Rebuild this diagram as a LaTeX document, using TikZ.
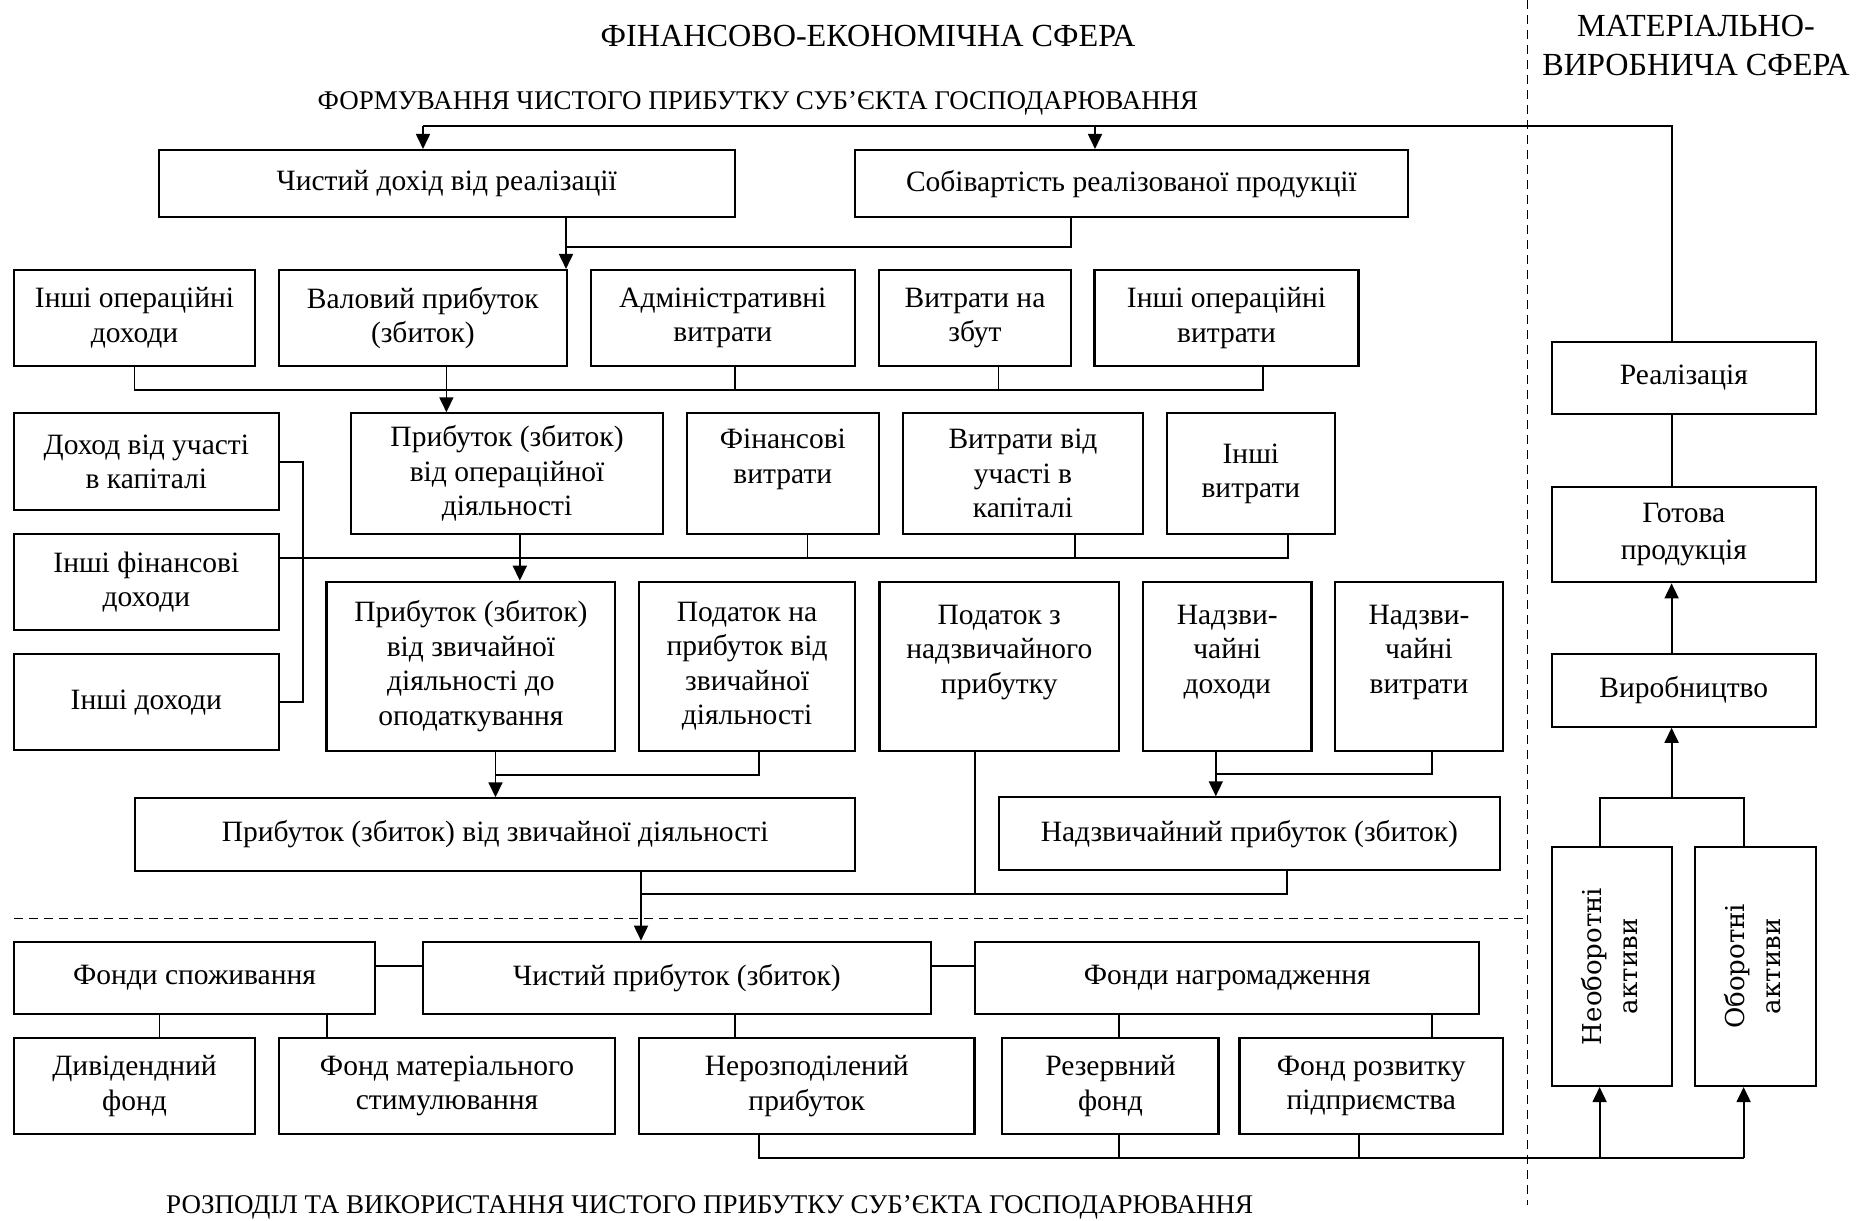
\documentclass[tikz,border=0pt]{standalone}
\usepackage{fontspec}
\usepackage{graphicx}
\setmainfont{Liberation Serif}
\newfontfamily\vertfont{DejaVu Serif}
\usetikzlibrary{arrows.meta}
\tikzset {>={Triangle[length=7.5pt,width=7pt]}}
\tikzset{
  box/.style={draw,line width=1.05pt,align=center,inner sep=0pt,
    font=\fontsize{14.75}{17.25}\selectfont},
  assetbox/.style={draw,line width=1.05pt,inner sep=0pt},
  link/.style={line width=0.9pt},
  sepline/.style={line width=0.8pt,dash pattern=on 4.5pt off 3pt},
  bigtitle/.style={font=\fontsize{16.1}{19.5}\selectfont,align=center,inner sep=0pt},
  smalltitle/.style={font=\fontsize{13.5}{16}\selectfont,inner sep=0pt}
}
\newcommand{\vtext}[2]{\rotatebox{90}{\vertfont\fontsize{13}{18}\selectfont
  \begin{tabular}{@{}c@{}}#1\\#2\end{tabular}}}

\begin{document}
\begin{tikzpicture}[x=0.5pt,y=-0.5pt]
\useasboundingbox (0,0) rectangle (1865,1221);
% titles
\node[bigtitle] (tfin) at (868,36) {ФІНАНСОВО-ЕКОНОМІЧНА СФЕРА};
\node[bigtitle] (tmat) at (1696,45.5) {МАТЕРІАЛЬНО-\\ВИРОБНИЧА СФЕРА};
\node[smalltitle] (tform) at (758,103.3) {ФОРМУВАННЯ ЧИСТОГО ПРИБУТКУ СУБ’ЄКТА ГОСПОДАРЮВАННЯ};
\node[smalltitle] (trozp) at (709.7,1207) {РОЗПОДІЛ ТА ВИКОРИСТАННЯ ЧИСТОГО ПРИБУТКУ СУБ’ЄКТА ГОСПОДАРЮВАННЯ};
% separators
\draw[sepline] (1527.6,0) -- (1527.6,1205);
\draw[sepline] (14,918.3) -- (1527.6,918.3);
% row 1
\node[box,minimum width=287.95pt,minimum height=33.65pt] (dohid) at (446.75,183.65) {Чистий дохід від реалізації};
\node[box,minimum width=276.35pt,minimum height=33.65pt] (sobiv) at (1131.35,183.65) {Собівартість реалізованої продукції};
% row 2
\node[box,minimum width=120.5pt,minimum height=48pt] (inopdoh) at (134.5,318) {Інші операційні\\доходи};
\node[box,minimum width=144.15pt,minimum height=48pt] (valov) at (422.85,318) {Валовий прибуток\\(збиток)};
\node[box,minimum width=132.2pt,minimum height=48pt] (admin) at (722.8,318) {Адміністративні\\витрати};
\node[box,minimum width=96pt,minimum height=48pt] (zbut) at (975,318) {Витрати на\\збут};
\node[box,minimum width=132pt,minimum height=48pt] (inopvytr) at (1226.5,318) {Інші операційні\\витрати};
% row 3
\node[box,minimum width=132.35pt,minimum height=48.35pt] (dochuch) at (146.35,461.65) {Доход від участі\\в капіталі};
\node[box,minimum width=132.35pt,minimum height=48pt] (infindoh) at (146.35,582) {Інші фінансові\\доходи};
\node[box,minimum width=132.35pt,minimum height=47.85pt] (inshdoh) at (146.35,702.15) {Інші доходи};
\node[box,minimum width=156.25pt,minimum height=60.35pt] (prybop) at (507.05,473.65) {Прибуток (збиток)\\від операційної\\діяльності};
\node[box,minimum width=95.95pt,minimum height=60.35pt] (finvytr) at (782.85,473.65) {Фінансові\\витрати\\\mbox{}};
\node[box,minimum width=120pt,minimum height=60.35pt] (vytruch) at (1023,473.65) {Витрати від\\участі в\\капіталі};
\node[box,minimum width=84.1pt,minimum height=60.35pt] (inshvytr) at (1250.9,473.65) {Інші\\витрати};
% row 4
\node[box,minimum width=144.45pt,minimum height=84.5pt] (prybzv) at (470.95,666.2) {Прибуток (збиток)\\від звичайної\\діяльності до\\оподаткування};
\node[box,minimum width=108.1pt,minimum height=84.5pt] (podprib) at (747.1,666.2) {Податок на\\прибуток від\\звичайної\\діяльності};
\node[box,minimum width=119.75pt,minimum height=84.5pt] (podnadz) at (999.25,666.2) {Податок з\\надзвичайного\\прибутку\\\mbox{}};
\node[box,minimum width=84.25pt,minimum height=84.5pt] (nadzdoh) at (1227.25,666.2) {Надзви-\\чайні\\доходи\\\mbox{}};
\node[box,minimum width=84pt,minimum height=84.5pt] (nadzvytr) at (1419,666.2) {Надзви-\\чайні\\витрати\\\mbox{}};
% row 5
\node[box,minimum width=360pt,minimum height=36.2pt] (prybzvd) at (495.2,834.5) {Прибуток (збиток) від звичайної діяльності};
\node[box,minimum width=250.35pt,minimum height=36.35pt] (nadzpryb) at (1249.35,833.65) {Надзвичайний прибуток (збиток)};
% distribution
\node[box,minimum width=180.5pt,minimum height=36.15pt] (fspoz) at (194.5,977.85) {Фонди споживання};
\node[box,minimum width=254.1pt,minimum height=36.15pt] (chyst) at (676.9,977.85) {Чистий прибуток (збиток)};
\node[box,minimum width=252pt,minimum height=36.15pt] (fnagr) at (1227.3,977.85) {Фонди нагромадження};
\node[box,minimum width=120.5pt,minimum height=48.15pt] (dyvid) at (134.5,1085.85) {Дивідендний\\фонд};
\node[box,minimum width=168.35pt,minimum height=48.15pt] (fmat) at (447.05,1085.85) {Фонд матеріального\\стимулювання};
\node[box,minimum width=167.75pt,minimum height=48.15pt] (nerozp) at (806.75,1085.85) {Нерозподілений\\прибуток};
\node[box,minimum width=108.05pt,minimum height=48.15pt] (rezerv) at (1110.45,1085.85) {Резервний\\фонд};
\node[box,minimum width=131.75pt,minimum height=48.15pt] (frozv) at (1371.25,1085.85) {Фонд розвитку\\підприємства};
% material sphere
\node[box,minimum width=131.8pt,minimum height=36.3pt] (real) at (1683.8,378) {Реалізація};
\node[box,minimum width=131.8pt,minimum height=47.8pt,font=\fontsize{14.75}{18.5}\selectfont] (gotova) at (1683.8,534.5) {Готова\\продукція};
\node[box,minimum width=131.8pt,minimum height=36.2pt] (vyrob) at (1683.8,690.5) {Виробництво};
\node[assetbox,minimum width=59.8pt,minimum height=119.65pt] (neobor) at (1611.8,966.35) {\vtext{Необоротні}{активи}};
\node[assetbox,minimum width=60.3pt,minimum height=119.65pt] (obor) at (1755.3,966.35) {\vtext{Оборотні}{активи}};
% feedback from sales
\coordinate (fbL) at (423,125.7);
\coordinate (fbR) at (1095,125.7);
\draw[link] (1671.6,0 |- real.north) |- (fbL);
\draw[link,->] (fbL) -- (fbL |- dohid.north);
\draw[link,->] (fbR) -- (fbR |- sobiv.north);
% gross profit
\coordinate (jv) at (566,246.7);
\draw[link] (1071,0 |- sobiv.south) |- (jv);
\draw[link,->] (jv |- dohid.south) -- (jv |- valov.north);
% operating profit
\draw[link] (inopdoh.south) |- (1263,390) -- (1263,0 |- inopvytr.south);
\draw[link] (735,0 |- admin.south) -- (735,390);
\draw[link] (998.5,0 |- zbut.south) -- (998.5,390);
\draw[link,->] (446.4,0 |- valov.south) -- (446.4,0 |- prybop.north);
% financial results
\draw[link] (dochuch.east) -| (303,0 |- inshdoh.east) -- (inshdoh.east);
\draw[link] (infindoh.east |- 0,558) -- (1288,558) -- (1288,0 |- inshvytr.south);
\draw[link] (807.4,0 |- finvytr.south) -- (807.4,558);
\draw[link] (1075,0 |- vytruch.south) -- (1075,558);
\draw[link,->] (519.8,0 |- prybop.south) -- (519.8,0 |- prybzv.north);
% ordinary activity
\draw[link] (759,0 |- podprib.south) |- (495.5,775);
\draw[link,->] (495.5,0 |- prybzv.south) -- (495.5,0 |- prybzvd.north);
% extraordinary
\draw[link] (1431.8,0 |- nadzvytr.south) |- (1215.8,774.3);
\draw[link,->] (1215.8,0 |- nadzdoh.south) -- (1215.8,0 |- nadzpryb.north);
% net profit
\draw[link] (975.3,0 |- podnadz.south) -- (975.3,894.3);
\draw[link] (1287,0 |- nadzpryb.south) |- (641,894.3);
\draw[link,->] (641,0 |- prybzvd.south) -- (641,0 |- chyst.north);
% funds
\draw[link] (fspoz.east |- 0,966) -- (chyst.west |- 0,966);
\draw[link] (chyst.east |- 0,966) -- (fnagr.west |- 0,966);
\draw[link] (159.4,0 |- fspoz.south) -- (159.4,0 |- dyvid.north);
\draw[link] (327,0 |- fspoz.south) -- (327,0 |- fmat.north);
\draw[link] (735.3,0 |- chyst.south) -- (735.3,0 |- nerozp.north);
\draw[link] (1119.3,0 |- fnagr.south) -- (1119.3,0 |- rezerv.north);
\draw[link] (1431.8,0 |- fnagr.south) -- (1431.8,0 |- frozv.north);
% back to assets
\draw[link] (759,0 |- nerozp.south) |- (1743.6,1158.3);
\draw[link] (1119.3,0 |- rezerv.south) -- (1119.3,1158.3);
\draw[link] (1359,0 |- frozv.south) -- (1359,1158.3);
\draw[link,->] (1599.6,1158.3) -- (1599.6,0 |- neobor.south);
\draw[link,->] (1743.6,1158.3) -- (1743.6,0 |- obor.south);
% production cycle
\draw[link] (1599.6,0 |- neobor.north) |- (1743.6,798.3) -- (1743.6,0 |- obor.north);
\draw[link,->] (1671.6,798.3) -- (1671.6,0 |- vyrob.south);
\draw[link,->] (1671.6,0 |- vyrob.north) -- (1671.6,0 |- gotova.south);
\draw[link] (1671.6,0 |- gotova.north) -- (1671.6,0 |- real.south);
\end{tikzpicture}
\end{document}
